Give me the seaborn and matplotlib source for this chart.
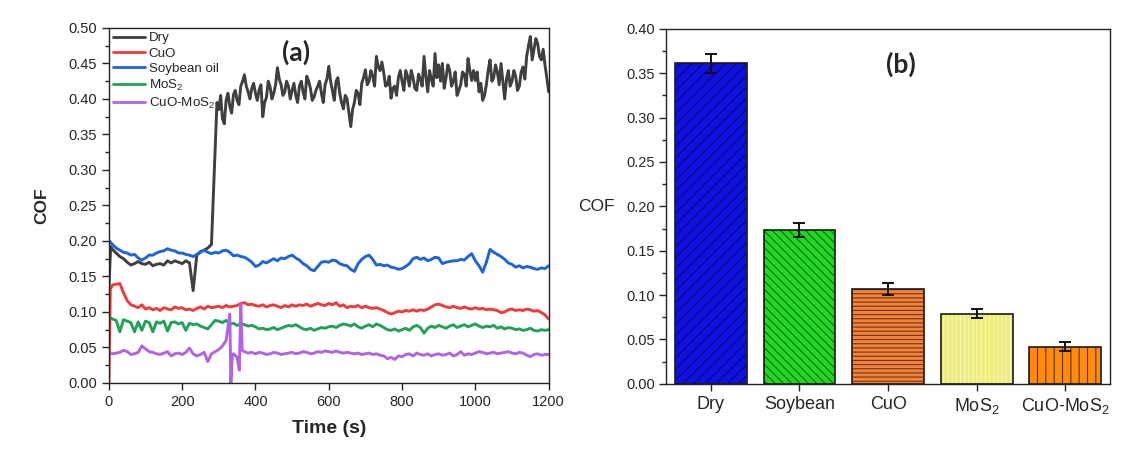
import numpy as np
import pandas as pd
import matplotlib
matplotlib.use("Agg")
import matplotlib.pyplot as plt
from matplotlib.patches import Rectangle
from matplotlib.ticker import MultipleLocator, FormatStrFormatter
import seaborn as sns

# ---------------- data: friction coefficient vs. time (10 s sampling) ----------------
time_s = np.arange(0, 1201, 10)

cof_dry = [
    0.130, 0.188, 0.183, 0.178, 0.175, 0.170, 0.166, 0.168, 0.171, 0.168,
    0.167, 0.170, 0.165, 0.167, 0.168, 0.166, 0.172, 0.169, 0.172, 0.170,
    0.168, 0.172, 0.169, 0.130, 0.180, 0.185, 0.187, 0.190, 0.195, 0.330,
    0.385, 0.372, 0.398, 0.390, 0.406, 0.398, 0.418, 0.434, 0.410, 0.415,
    0.408, 0.413, 0.375, 0.402, 0.417, 0.408, 0.444, 0.420, 0.410, 0.418,
    0.412, 0.405, 0.418, 0.410, 0.432, 0.415, 0.403, 0.418, 0.408, 0.420,
    0.446, 0.412, 0.425, 0.408, 0.386, 0.400, 0.361, 0.395, 0.408, 0.422,
    0.441, 0.425, 0.432, 0.460, 0.440, 0.437, 0.420, 0.401, 0.418, 0.430,
    0.425, 0.440, 0.418, 0.430, 0.412, 0.428, 0.460, 0.410, 0.428, 0.464,
    0.448, 0.450, 0.430, 0.440, 0.425, 0.405, 0.420, 0.435, 0.457, 0.426,
    0.426, 0.410, 0.398, 0.420, 0.455, 0.430, 0.438, 0.450, 0.400, 0.440,
    0.425, 0.432, 0.418, 0.445, 0.460, 0.488, 0.470, 0.478, 0.455, 0.448,
    0.410,
]

# dry run after the transition, samples halfway between the 10 s grid
dry_mid_time = np.arange(295, 1196, 10)
cof_dry_mid = [
    0.395, 0.405, 0.365, 0.408, 0.380, 0.412, 0.392, 0.425, 0.418, 0.400,
    0.422, 0.398, 0.420, 0.395, 0.425, 0.400, 0.420, 0.428, 0.405, 0.425,
    0.400, 0.422, 0.395, 0.425, 0.400, 0.425, 0.398, 0.412, 0.425, 0.395,
    0.428, 0.425, 0.398, 0.430, 0.395, 0.405, 0.380, 0.385, 0.412, 0.392,
    0.430, 0.420, 0.440, 0.418, 0.445, 0.452, 0.418, 0.432, 0.415, 0.405,
    0.440, 0.412, 0.432, 0.440, 0.415, 0.435, 0.418, 0.432, 0.440, 0.418,
    0.430, 0.425, 0.415, 0.448, 0.418, 0.438, 0.412, 0.438, 0.418, 0.440,
    0.440, 0.438, 0.422, 0.405, 0.440, 0.425, 0.448, 0.420, 0.425, 0.428,
    0.418, 0.440, 0.412, 0.438, 0.428, 0.475, 0.455, 0.485, 0.460, 0.470,
    0.430,
]

cof_cuo = [
    0.000, 0.138, 0.139, 0.140, 0.127, 0.116, 0.110, 0.108, 0.106, 0.110,
    0.104, 0.106, 0.103, 0.105, 0.102, 0.106, 0.104, 0.103, 0.107, 0.105,
    0.106, 0.103, 0.104, 0.102, 0.105, 0.107, 0.104, 0.108, 0.106, 0.107,
    0.108, 0.106, 0.109, 0.107, 0.108, 0.109, 0.112, 0.113, 0.110, 0.111,
    0.109, 0.108, 0.110, 0.107, 0.109, 0.110, 0.108, 0.106, 0.109, 0.107,
    0.110, 0.108, 0.110, 0.109, 0.111, 0.108, 0.110, 0.112, 0.110, 0.109,
    0.112, 0.110, 0.113, 0.108, 0.110, 0.106, 0.108, 0.107, 0.109, 0.106,
    0.108, 0.106, 0.105, 0.106, 0.104, 0.102, 0.099, 0.097, 0.099, 0.101,
    0.100, 0.102, 0.101, 0.103, 0.101, 0.103, 0.102, 0.104, 0.107, 0.110,
    0.111, 0.109, 0.107, 0.106, 0.108, 0.106, 0.105, 0.107, 0.105, 0.104,
    0.106, 0.104, 0.105, 0.103, 0.104, 0.103, 0.102, 0.099, 0.100, 0.103,
    0.104, 0.102, 0.103, 0.102, 0.104, 0.103, 0.101, 0.102, 0.099, 0.096,
    0.090,
]

cof_soybean = [
    0.201, 0.195, 0.190, 0.187, 0.184, 0.183, 0.180, 0.181, 0.176, 0.173,
    0.176, 0.180, 0.180, 0.183, 0.185, 0.186, 0.189, 0.187, 0.186, 0.183,
    0.183, 0.181, 0.180, 0.178, 0.181, 0.184, 0.187, 0.184, 0.182, 0.184,
    0.183, 0.186, 0.187, 0.184, 0.179, 0.180, 0.178, 0.177, 0.174, 0.170,
    0.164, 0.166, 0.171, 0.169, 0.172, 0.175, 0.172, 0.176, 0.175, 0.178,
    0.180, 0.176, 0.173, 0.168, 0.165, 0.160, 0.158, 0.164, 0.170, 0.171,
    0.170, 0.173, 0.172, 0.168, 0.166, 0.165, 0.160, 0.157, 0.168, 0.174,
    0.178, 0.180, 0.174, 0.166, 0.167, 0.165, 0.166, 0.163, 0.162, 0.160,
    0.161, 0.164, 0.168, 0.175, 0.177, 0.174, 0.176, 0.172, 0.174, 0.177,
    0.176, 0.168, 0.170, 0.171, 0.172, 0.172, 0.174, 0.173, 0.178, 0.182,
    0.172, 0.165, 0.156, 0.170, 0.188, 0.184, 0.181, 0.178, 0.174, 0.169,
    0.167, 0.163, 0.165, 0.162, 0.164, 0.163, 0.161, 0.160, 0.162, 0.161,
    0.165,
]

cof_mos2 = [
    0.093, 0.090, 0.088, 0.072, 0.089, 0.087, 0.085, 0.072, 0.086, 0.074,
    0.087, 0.085, 0.072, 0.086, 0.084, 0.087, 0.073, 0.085, 0.086, 0.083,
    0.085, 0.074, 0.084, 0.082, 0.083, 0.080, 0.078, 0.076, 0.082, 0.088,
    0.087, 0.085, 0.088, 0.083, 0.084, 0.081, 0.083, 0.082, 0.080, 0.081,
    0.079, 0.076, 0.077, 0.075, 0.076, 0.078, 0.075, 0.077, 0.079, 0.081,
    0.080, 0.082, 0.079, 0.076, 0.075, 0.077, 0.074, 0.076, 0.078, 0.077,
    0.079, 0.080, 0.078, 0.081, 0.083, 0.082, 0.080, 0.083, 0.079, 0.077,
    0.080, 0.082, 0.079, 0.083, 0.081, 0.078, 0.075, 0.074, 0.076, 0.073,
    0.075, 0.077, 0.074, 0.079, 0.081, 0.078, 0.070, 0.077, 0.080, 0.078,
    0.081, 0.079, 0.077, 0.080, 0.082, 0.078, 0.080, 0.082, 0.079, 0.081,
    0.083, 0.080, 0.078, 0.080, 0.079, 0.081, 0.077, 0.079, 0.076, 0.078,
    0.077, 0.075, 0.076, 0.074, 0.075, 0.077, 0.074, 0.073, 0.075, 0.074,
    0.075,
]

cof_cuo_mos2 = [
    0.042, 0.041, 0.042, 0.043, 0.046, 0.044, 0.040, 0.041, 0.043, 0.052,
    0.048, 0.044, 0.043, 0.041, 0.040, 0.042, 0.044, 0.038, 0.041, 0.042,
    0.040, 0.043, 0.049, 0.041, 0.038, 0.040, 0.043, 0.030, 0.041, 0.044,
    0.047, 0.052, 0.060, 0.097, 0.041, 0.036, 0.112, 0.044, 0.042, 0.043,
    0.041, 0.043, 0.042, 0.040, 0.041, 0.043, 0.042, 0.040, 0.041, 0.042,
    0.043, 0.041, 0.042, 0.044, 0.043, 0.041, 0.042, 0.044, 0.043, 0.045,
    0.044, 0.043, 0.045, 0.043, 0.042, 0.043, 0.042, 0.041, 0.042, 0.040,
    0.041, 0.042, 0.040, 0.041, 0.039, 0.038, 0.034, 0.036, 0.033, 0.038,
    0.037, 0.040, 0.041, 0.038, 0.042, 0.040, 0.039, 0.041, 0.038, 0.040,
    0.041, 0.039, 0.040, 0.042, 0.038, 0.040, 0.044, 0.039, 0.041, 0.040,
    0.042, 0.044, 0.043, 0.041, 0.042, 0.043, 0.041, 0.042, 0.043, 0.044,
    0.042, 0.041, 0.043, 0.042, 0.039, 0.037, 0.040, 0.041, 0.039, 0.040,
    0.040,
]

# extra samples between grid points (run-in rise and short spikes)
extra_time = {
    "Dry": [5] + list(dry_mid_time),
    "CuO": [4],
    "CuO-MoS$_2$": [333, 337, 356, 364],
}
extra_cof = {
    "Dry": [0.192] + cof_dry_mid,
    "CuO": [0.132],
    "CuO-MoS$_2$": [0.000, 0.040, 0.018, 0.046],
}

series_names = ["Dry", "CuO", "Soybean oil", "MoS$_2$", "CuO-MoS$_2$"]
series_values = [cof_dry, cof_cuo, cof_soybean, cof_mos2, cof_cuo_mos2]
line_colors = ["#3f3f3f", "#ee3b3b", "#1f63d6", "#23a05a", "#b163e6"]

# ---------------- data: average friction coefficient ----------------
bar_labels = ["Dry", "Soybean", "CuO", "MoS$_2$", "CuO-MoS$_2$"]
bar_cof = [0.361, 0.173, 0.107, 0.079, 0.042]
bar_err = [0.011, 0.008, 0.007, 0.005, 0.005]
bar_faces = ["#1010e0", "#22d822", "#f0843a", "#ecec7c", "#ff8c0a"]
bar_hatch_colors = ["#0a0a70", "#0d6a0d", "#7a3010", "#f8f8b0", "#6a2a05"]
bar_hatches = ["///", "\\\\\\\\", "----", "||||", "||"]

# ---------------- long-form table ----------------
frames = []
for name, vals in zip(series_names, series_values):
    t = list(time_s) + extra_time.get(name, [])
    v = list(vals) + extra_cof.get(name, [])
    df = pd.DataFrame({"Time (s)": t, "COF": v, "Sample": name})
    frames.append(df.sort_values("Time (s)"))
curves = pd.concat(frames, ignore_index=True)

bars = pd.DataFrame({"Sample": bar_labels, "COF": bar_cof, "err": bar_err})

# ---------------- style ----------------
sns.set_style("ticks")
plt.rcParams["font.family"] = ["Liberation Sans", "DejaVu Sans"]
plt.rcParams["mathtext.default"] = "regular"
plt.rcParams["hatch.linewidth"] = 0.8
plt.rcParams["axes.linewidth"] = 1.0
plt.rcParams["axes.edgecolor"] = "#222222"

fig = plt.figure(figsize=(11.22, 4.51), dpi=100)
ax1 = fig.add_axes([0.097, 0.151, 0.392, 0.787])
ax2 = fig.add_axes([0.594, 0.149, 0.395, 0.787])

# ---------------- (a) time traces ----------------
sns.lineplot(data=curves, x="Time (s)", y="COF", hue="Sample",
             hue_order=series_names, palette=line_colors, estimator=None,
             sort=False, linewidth=2.1, ax=ax1)
ax1.set_xlim(0, 1200)
ax1.set_ylim(0, 0.5)
ax1.xaxis.set_major_locator(MultipleLocator(200))
ax1.yaxis.set_major_locator(MultipleLocator(0.05))
ax1.yaxis.set_minor_locator(MultipleLocator(0.025))
ax1.yaxis.set_major_formatter(FormatStrFormatter("%.2f"))
ax1.tick_params(axis="both", which="major", direction="out", length=5,
                width=1.0, labelsize=10.5, color="#222222")
ax1.tick_params(axis="y", which="minor", direction="out", length=3,
                width=1.0, color="#222222")
ax1.set_xlabel("Time (s)", fontsize=14, fontweight="bold", labelpad=8)
ax1.set_ylabel("COF", fontsize=12.5, fontweight="bold", labelpad=14)
for s in ax1.spines.values():
    s.set_visible(True)
leg = ax1.legend(loc="upper left", frameon=False, fontsize=9.6,
                 handlelength=2.4, handletextpad=0.3, labelspacing=0.22,
                 borderaxespad=0.05, borderpad=0.25)
for h in leg.get_lines():
    h.set_linewidth(2.0)
ax1.text(0.425, 0.932, "(a)", transform=ax1.transAxes, ha="center",
         va="center", fontsize=19, fontweight="bold", family="Lato")

# ---------------- (b) average COF bars ----------------
sns.barplot(data=bars, x="Sample", y="COF", hue="Sample",
            palette=bar_faces, legend=False, errorbar=None, width=0.81,
            saturation=1, ax=ax2)
for patch, hc, hatch in zip(ax2.patches, bar_hatch_colors, bar_hatches):
    patch.set_hatch(hatch)
    patch.set_edgecolor(hc)
    patch.set_linewidth(0)
    ax2.add_patch(Rectangle((patch.get_x(), patch.get_y()),
                            patch.get_width(), patch.get_height(),
                            fill=False, edgecolor="#1a1a1a", linewidth=1.2,
                            zorder=patch.get_zorder() + 0.1))
centers = [p.get_x() + p.get_width() / 2 for p in ax2.patches[:len(bar_labels)]]
ax2.errorbar(centers, bars["COF"], yerr=bars["err"], fmt="none",
             ecolor="#111111", elinewidth=1.4, capsize=4, capthick=1.4,
             zorder=5)
ax2.set_xlim(-0.5, 4.5)
ax2.set_ylim(0, 0.4)
ax2.yaxis.set_major_locator(MultipleLocator(0.05))
ax2.yaxis.set_minor_locator(MultipleLocator(0.025))
ax2.yaxis.set_major_formatter(FormatStrFormatter("%.2f"))
ax2.tick_params(axis="y", which="major", direction="out", length=5,
                width=1.0, labelsize=10.5, color="#222222")
ax2.tick_params(axis="y", which="minor", direction="out", length=3,
                width=1.0, color="#222222")
ax2.tick_params(axis="x", which="major", direction="out", length=5,
                width=1.0, labelsize=13, pad=4, color="#222222")
ax2.set_xlabel("")
ax2.set_ylabel("COF", fontsize=12.5, rotation=0, ha="center", va="center")
ax2.yaxis.set_label_coords(-0.158, 0.5)
for s in ax2.spines.values():
    s.set_visible(True)
ax2.text(0.528, 0.899, "(b)", transform=ax2.transAxes, ha="center",
         va="center", fontsize=19, fontweight="bold", family="Lato")

fig.savefig("out.png", dpi=100, facecolor="white")
